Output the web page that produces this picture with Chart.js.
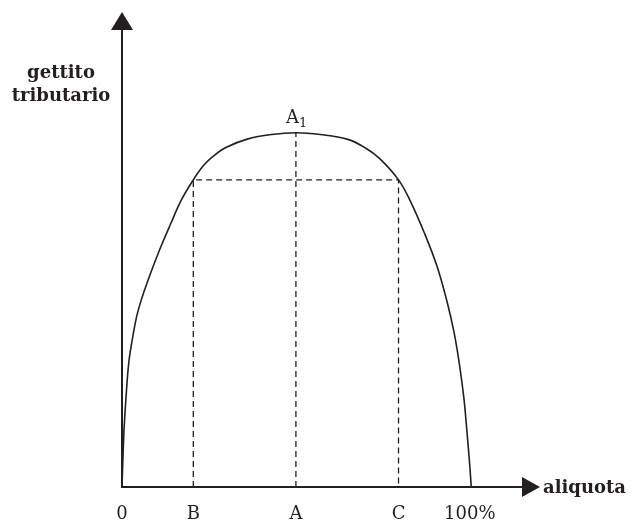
<!DOCTYPE html>
<html>
<head>
<meta charset="utf-8">
<script src="https://cdn.jsdelivr.net/npm/chart.js@4"></script>
<style>
  body { margin: 0; background: #fff; }
  #box { width: 632px; height: 521px; }
</style>
</head>
<body>
<div id="box"><canvas id="laffer"></canvas></div>
<script>
// curva di Laffer: aliquota (%) -> gettito (picco = 100)
const aliquota = [0, 0.3, 0.6, 1.2, 2.0, 3.2, 4.3, 5.7, 7.2, 9, 11.5, 14, 17, 20.5, 23.5, 26.5, 30, 36, 43, 50,
                  57, 64.7, 70, 74.1, 79.5, 83, 87.1, 90.5, 93.4, 95.5, 97.1, 98.3, 99.1, 99.7, 100.1, 100.4];
const gettito  = [0, 9, 16.5, 26, 35.5, 43, 48.5, 53.3, 57.6, 62.4, 68.6, 74.3, 80.9, 86.7, 90.8, 93.6, 95.9, 98.2, 99.5, 100,
                  99.5, 98.2, 95.7, 92.7, 86.7, 80.5, 71.3, 62.5, 52.5, 43.5, 34, 25, 16.5, 9.5, 4.5, 0];

// punti notevoli
const tickValues = [0, 20.5, 50, 79.5, 100];
const tickLabels = ['0', 'B', 'A', 'C', '100%'];
const puntoB = 20.5, puntoA = 50, puntoC = 79.5;
const livelloBC = 86.7, picco = 100;

const ink = '#231f20';

const curve = aliquota.map((x, i) => ({ x: x, y: gettito[i] }));

// disegna assi con frecce, etichette e tick
const assiPlugin = {
  id: 'assi',
  afterDraw(chart) {
    const ctx = chart.ctx;
    const xs = chart.scales.x, ys = chart.scales.y;
    const x0 = xs.getPixelForValue(0);
    const y0 = ys.getPixelForValue(0);
    const top = chart.chartArea.top;
    const right = chart.chartArea.right;

    ctx.save();
    ctx.strokeStyle = ink;
    ctx.fillStyle = ink;
    ctx.lineWidth = 2;
    ctx.beginPath();
    ctx.moveTo(x0, top);
    ctx.lineTo(x0, y0);
    ctx.lineTo(right, y0);
    ctx.stroke();

    // freccia verticale
    ctx.beginPath();
    ctx.moveTo(x0, top - 18);
    ctx.lineTo(x0 - 11, top);
    ctx.lineTo(x0 + 11, top);
    ctx.closePath();
    ctx.fill();

    // freccia orizzontale
    ctx.beginPath();
    ctx.moveTo(right + 18, y0);
    ctx.lineTo(right, y0 - 10);
    ctx.lineTo(right, y0 + 10);
    ctx.closePath();
    ctx.fill();

    // titoli assi
    ctx.font = 'bold 18px "DejaVu Serif"';
    ctx.textAlign = 'center';
    ctx.textBaseline = 'alphabetic';
    ctx.fillText('gettito', 61, 78);
    ctx.fillText('tributario', 61, 101);
    ctx.textAlign = 'left';
    ctx.fillText('aliquota', right + 21, y0 + 6);

    // etichette asse x
    ctx.font = '18px "DejaVu Serif"';
    ctx.textAlign = 'center';
    tickValues.forEach((v, i) => {
      ctx.fillText(tickLabels[i], xs.getPixelForValue(v), y0 + 32);
    });

    // A1
    const ax = xs.getPixelForValue(puntoA);
    const ay = ys.getPixelForValue(picco);
    ctx.font = '18px "DejaVu Serif"';
    ctx.textAlign = 'right';
    ctx.fillText('A', ax + 3, ay - 10);
    ctx.font = '13px "DejaVu Serif"';
    ctx.textAlign = 'left';
    ctx.fillText('1', ax + 3, ay - 6);
    ctx.restore();
  }
};

new Chart(document.getElementById('laffer'), {
  type: 'line',
  data: {
    datasets: [
      {
        data: curve,
        borderColor: ink,
        borderWidth: 1.6,
        pointRadius: 0,
        tension: 0.4,
        clip: false
      },
      {
        data: [{ x: puntoB, y: 0 }, { x: puntoB, y: livelloBC }, { x: puntoC, y: livelloBC }, { x: puntoC, y: 0 }],
        borderColor: ink,
        borderWidth: 1.3,
        borderDash: [6, 4],
        pointRadius: 0,
        tension: 0
      },
      {
        data: [{ x: puntoA, y: 0 }, { x: puntoA, y: picco }],
        borderColor: ink,
        borderWidth: 1.3,
        borderDash: [6, 4],
        pointRadius: 0,
        tension: 0
      }
    ]
  },
  options: {
    responsive: true,
    maintainAspectRatio: false,
    animation: false,
    layout: { padding: { left: 122, right: 110, top: 30, bottom: 34 } },
    scales: {
      x: { type: 'linear', min: 0, max: 115, display: false },
      y: { type: 'linear', min: 0, max: 129, display: false }
    },
    plugins: {
      legend: { display: false },
      tooltip: { enabled: false }
    }
  },
  plugins: [assiPlugin]
});
</script>
</body>
</html>
